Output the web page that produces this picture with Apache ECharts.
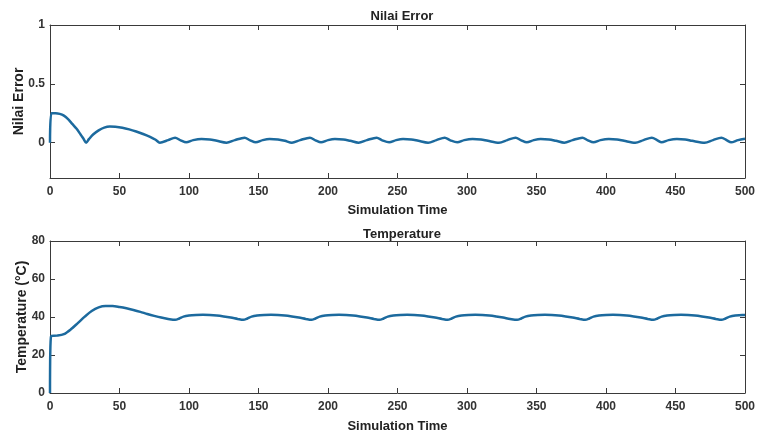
<!DOCTYPE html>
<html>
<head>
<meta charset="utf-8">
<script src="https://cdn.jsdelivr.net/npm/echarts@6/dist/echarts.min.js"></script>
<style>html,body{margin:0;padding:0;background:#fff}#c{width:758px;height:439px}</style>
</head>
<body>
<div id="c"></div>
<script>
// ---- Data ----
const errTime = [0,1,4,7,10,13,16,19,22,24,26,28,31,35,39,43,47,52,57,62,67,72,76,79,
  85,90,94,98,103,109,115,120,127,
  133,140,144,148,153,158,164,169,174,
  180,187,191,195,200,205,211,216,222,
  228,235,239,244,249,254,260,265,272,
  278,284,288,293,298,304,310,315,323,
  329,335,339,343,348,353,359,364,370,
  376,383,387,391,396,402,408,413,421,
  427,433,437,440,445,451,457,462,471,
  477,483,487,490,495,500];
const errVals = [0,0.25,0.25,0.245,0.23,0.2,0.16,0.12,0.07,0.035,0,0.03,0.07,0.105,0.128,0.137,0.135,0.127,0.113,0.095,0.074,0.05,0.025,0,
  0.022,0.043,0.02,0.003,0.022,0.032,0.028,0.016,0,
  0.022,0.043,0.02,0.003,0.022,0.032,0.028,0.016,0,
  0.022,0.043,0.02,0.003,0.022,0.032,0.028,0.016,0,
  0.022,0.043,0.02,0.003,0.022,0.032,0.028,0.016,0,
  0.022,0.043,0.02,0.003,0.022,0.032,0.028,0.016,0,
  0.022,0.043,0.02,0.003,0.022,0.032,0.028,0.016,0,
  0.022,0.043,0.02,0.003,0.022,0.032,0.028,0.016,0,
  0.022,0.043,0.02,0.003,0.022,0.032,0.028,0.016,0,
  0.022,0.043,0.02,0.003,0.022,0.034];

const tempTime = [0,0.8,5,10,15,20,25,30,35,40,45,50,55,60,65,70,75,80,85,90,
  93,96,100,105,110,115,120,125,130,135,139,
  142,145,149,154,159,164,169,174,179,184,188,
  191,194,198,203,208,213,218,223,228,233,237,
  240,243,247,252,257,262,267,272,277,282,286,
  289,292,296,301,306,311,316,321,326,331,336,
  339,342,346,351,356,361,366,371,376,381,385,
  388,391,395,400,405,410,415,420,425,430,434,
  437,440,444,449,454,459,464,469,474,479,483,
  486,489,493,498,500];
const tempVals = [0,30,30.2,31,33.5,36.8,40.2,43.2,45.1,45.8,45.8,45.3,44.6,43.7,42.7,41.6,40.6,39.7,39,38.5,
  39.2,40.2,40.8,41.1,41.2,41.1,40.8,40.3,39.7,39,38.5,
  39.2,40.2,40.8,41.1,41.2,41.1,40.8,40.3,39.7,39,38.5,
  39.2,40.2,40.8,41.1,41.2,41.1,40.8,40.3,39.7,39,38.5,
  39.2,40.2,40.8,41.1,41.2,41.1,40.8,40.3,39.7,39,38.5,
  39.2,40.2,40.8,41.1,41.2,41.1,40.8,40.3,39.7,39,38.5,
  39.2,40.2,40.8,41.1,41.2,41.1,40.8,40.3,39.7,39,38.5,
  39.2,40.2,40.8,41.1,41.2,41.1,40.8,40.3,39.7,39,38.5,
  39.2,40.2,40.8,41.1,41.2,41.1,40.8,40.3,39.7,39,38.5,
  39.2,40.2,40.8,41.1,41.1];

const xTicks = [0,50,100,150,200,250,300,350,400,450,500];
const errTicks = [0,0.5,1];
const tempTicks = [0,20,40,60,80];

// ---- Chart ----
const FONT = '"Liberation Sans", Arial, sans-serif';
const AX = '#3a3a3a';
const LINE = '#1c6a9e';
const chart = echarts.init(document.getElementById('c'));

function mainX(grid, name, gap) {
  return {
    type: 'value', gridIndex: grid, min: 0, max: 500, interval: 50,
    position: 'bottom',
    name: name, nameLocation: 'middle', nameGap: gap, nameMoveOverlap: false,
    nameTextStyle: {fontFamily: FONT, fontWeight: 'bold', fontSize: 13, color: '#222'},
    axisLine: {show: true, onZero: false, lineStyle: {color: AX, width: 1}},
    axisTick: {show: true, inside: true, length: 5, lineStyle: {color: AX}},
    axisLabel: {fontFamily: FONT, fontWeight: 'bold', fontSize: 12, color: '#333', margin: 8},
    splitLine: {show: false}
  };
}
function topX(grid) {
  return {
    type: 'value', gridIndex: grid, min: 0, max: 500, interval: 50, position: 'top',
    axisLine: {show: true, onZero: false, lineStyle: {color: AX, width: 1}},
    axisTick: {show: true, inside: true, length: 5, lineStyle: {color: AX}},
    axisLabel: {show: false}, splitLine: {show: false}
  };
}
function mainY(grid, min, max, ticks, name, gap) {
  return {
    type: 'value', gridIndex: grid, min: min, max: max, position: 'left',
    name: name, nameLocation: 'middle', nameGap: gap, nameMoveOverlap: false,
    nameTextStyle: {fontFamily: FONT, fontWeight: 'bold', fontSize: 14, color: '#222'},
    axisLine: {show: true, onZero: false, lineStyle: {color: AX, width: 1}},
    axisTick: {show: true, inside: true, length: 5, lineStyle: {color: AX}, customValues: ticks},
    axisLabel: {fontFamily: FONT, fontWeight: 'bold', fontSize: 12, color: '#333', margin: 5, customValues: ticks},
    splitLine: {show: false}
  };
}
function rightY(grid, min, max, ticks) {
  return {
    type: 'value', gridIndex: grid, min: min, max: max, position: 'right',
    axisLine: {show: true, onZero: false, lineStyle: {color: AX, width: 1}},
    axisTick: {show: true, inside: true, length: 5, lineStyle: {color: AX}, customValues: ticks},
    axisLabel: {show: false, customValues: ticks}, splitLine: {show: false}
  };
}

const option = {
  animation: false,
  backgroundColor: '#fff',
  title: [
    {text: 'Nilai Error', left: 397, top: 5, textAlign: 'center',
     textStyle: {fontFamily: FONT, fontWeight: 'bold', fontSize: 13, color: '#222'}},
    {text: 'Temperature', left: 397, top: 223, textAlign: 'center',
     textStyle: {fontFamily: FONT, fontWeight: 'bold', fontSize: 13, color: '#222'}}
  ],
  grid: [
    {left: 50, right: 13, top: 25, height: 153, outerBoundsMode: 'none', containLabel: false},
    {left: 50, right: 13, top: 241, height: 152, outerBoundsMode: 'none', containLabel: false}
  ],
  xAxis: [mainX(0, 'Simulation Time', 26), topX(0), mainX(1, 'Simulation Time', 27), topX(1)],
  yAxis: [
    mainY(0, -0.3, 1, errTicks, 'Nilai Error', 24), rightY(0, -0.3, 1, errTicks),
    mainY(1, 0, 80, tempTicks, 'Temperature (°C)', 21), rightY(1, 0, 80, tempTicks)
  ],
  series: [
    {type: 'line', xAxisIndex: 0, yAxisIndex: 0, showSymbol: false, smooth: 0.3,
     data: errTime.map((t, i) => [t, errVals[i]]),
     lineStyle: {color: LINE, width: 2.5}, itemStyle: {color: LINE}},
    {type: 'line', xAxisIndex: 2, yAxisIndex: 2, showSymbol: false, smooth: 0.3,
     data: tempTime.map((t, i) => [t, tempVals[i]]),
     lineStyle: {color: LINE, width: 2.5}, itemStyle: {color: LINE}}
  ]
};
chart.setOption(option);
</script>
</body>
</html>
